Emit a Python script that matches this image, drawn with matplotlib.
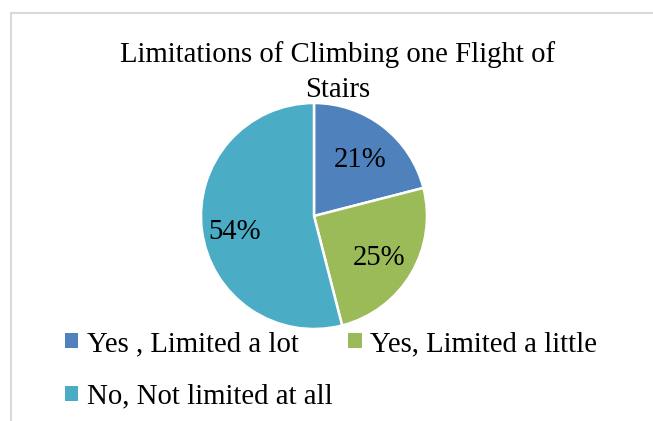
import matplotlib
matplotlib.use('Agg')
import matplotlib.pyplot as plt
from matplotlib.patches import Rectangle

# data
labels = ['Yes , Limited a lot', 'Yes, Limited a little', 'No, Not limited at all']
shares = [21, 25, 54]
colors = ['#4F81BD', '#9BBB59', '#4BACC6']
title_lines = ['Limitations of Climbing one Flight of', 'Stairs']

W, H = 653, 421
FONT = 'Liberation Serif'
FS = 20.7

fig = plt.figure(figsize=(W / 100, H / 100), dpi=100)
fig.patch.set_facecolor('white')

# chart frame (runs off the right and bottom of the crop)
fig.patches.append(Rectangle((11 / W, -0.1), 1.0, 1 - 13 / H + 0.1, transform=fig.transFigure,
                             fill=False, edgecolor='#d9d9d9', linewidth=1.5))

# title
fig.text(338 / W, 1 - 62 / H, title_lines[0], ha='center', va='baseline', family=FONT, fontsize=FS)
fig.text(338 / W, 1 - 97 / H, title_lines[1], ha='center', va='baseline', family=FONT, fontsize=FS)

# pie
cx, cy, r = 314, 216, 113
ax = fig.add_axes([(cx - r) / W, 1 - (cy + r) / H, 2 * r / W, 2 * r / H])
wedges, _, autotexts = ax.pie(shares, colors=colors, startangle=90, counterclock=False,
                              autopct='%d%%', pctdistance=0.67,
                              wedgeprops=dict(edgecolor='white', linewidth=1.8),
                              textprops=dict(family=FONT, fontsize=FS))
ax.set_xlim(-1, 1)
ax.set_ylim(-1, 1)
ax.set_aspect('auto')
# best-fit spot for the big slice label
autotexts[2].set_position((-0.70, -0.11))
# nudge the percentages down a touch
for t in autotexts:
    x, y = t.get_position()
    t.set_position((x, y - 0.035))

# legend: row 1 = first two entries, row 2 = third
order = [0, 2, 1]
leg = fig.legend([wedges[i] for i in order], [labels[i] for i in order], ncol=2,
                 loc='upper left', bbox_to_anchor=(65 / W, 1 - 331 / H),
                 frameon=False, borderpad=0, borderaxespad=0,
                 handlelength=0.46, handleheight=0.42, handletextpad=0.3,
                 columnspacing=0.55, labelspacing=0.93,
                 prop=dict(family=FONT, size=FS))
for h in leg.legend_handles:
    h.set_edgecolor('none')

fig.savefig('out.png', dpi=100)
